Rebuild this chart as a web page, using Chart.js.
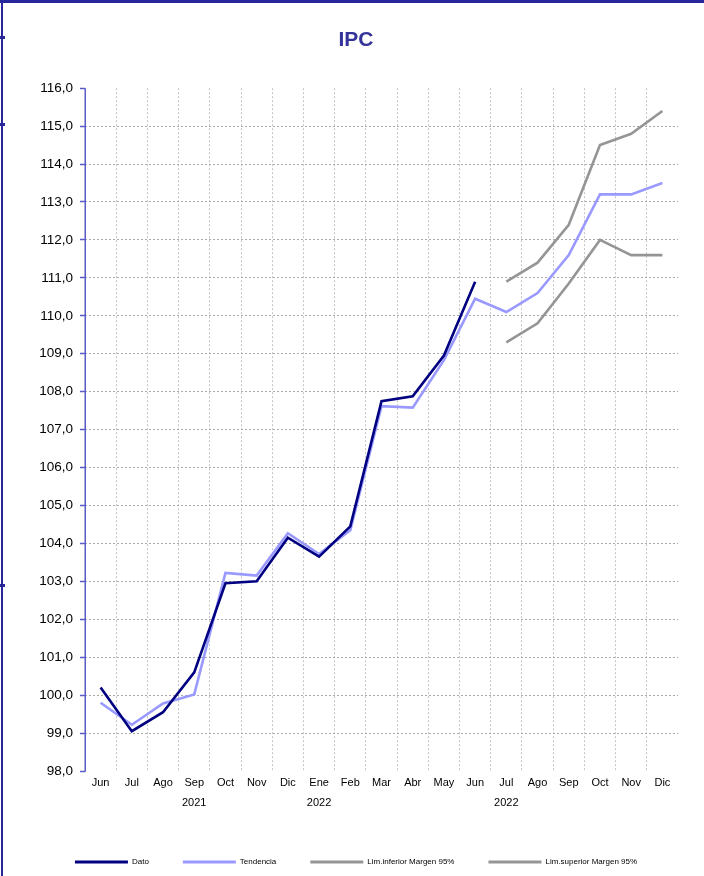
<!DOCTYPE html>
<html lang="es">
<head>
<meta charset="utf-8">
<title>IPC</title>
<script src="https://cdn.jsdelivr.net/npm/chart.js@4/dist/chart.umd.min.js"></script>
<style>
  html, body { margin: 0; padding: 0; background: #ffffff; overflow: hidden; }
  #wrap { position: relative; width: 704px; height: 876px; }
  #ipc { position: absolute; left: 0; top: 0; }
  .frame { position: absolute; background: #27279b; }
</style>
</head>
<body>
<div id="wrap">
  <canvas id="ipc" width="704" height="876"></canvas>
  <div class="frame" style="left:0;top:0;width:704px;height:3px;"></div>
  <div class="frame" style="left:1px;top:0;width:2px;height:876px;"></div>
  <div class="frame" style="left:0;top:36px;width:5px;height:3px;"></div>
  <div class="frame" style="left:0;top:123px;width:5px;height:3px;"></div>
  <div class="frame" style="left:0;top:584px;width:5px;height:3px;"></div>
</div>
<script>
// Months from June 2021 to December 2022
const months = ['Jun', 'Jul', 'Ago', 'Sep', 'Oct', 'Nov', 'Dic', 'Ene', 'Feb', 'Mar', 'Abr', 'May',
                'Jun', 'Jul', 'Ago', 'Sep', 'Oct', 'Nov', 'Dic'];
// Year captions printed under a few months
const years = ['', '', '', '2021', '', '', '', '2022', '', '', '', '', '', '2022', '', '', '', '', ''];

// Observed index
const dato = [100.2, 99.05, 99.55, 100.6, 102.95, 103.0, 104.15, 103.65, 104.45, 107.75, 107.88, 108.95, 110.9,
              null, null, null, null, null, null];
// Trend, including forecast
const tendencia = [99.8, 99.22, 99.78, 100.02, 103.22, 103.15, 104.27, 103.72, 104.35, 107.62, 107.58, 108.83, 110.45,
                   110.1, 110.6, 111.6, 113.2, 113.2, 113.5];
// 95% forecast band
const limInferior = [null, null, null, null, null, null, null, null, null, null, null, null, null,
                     109.3, 109.8, 110.85, 112.0, 111.6, 111.6];
const limSuperior = [null, null, null, null, null, null, null, null, null, null, null, null, null,
                     110.9, 111.4, 112.4, 114.5, 114.8, 115.4];

const yMin = 98, yMax = 116;

const labels = months.map((m, i) => years[i] ? [m, years[i]] : m);

const FONT = 'Arial, "Liberation Sans", sans-serif';
const AXIS_BLUE = '#5b5bc8';

function series(label, data, color) {
  return {
    label, data,
    borderColor: color,
    backgroundColor: color,
    borderWidth: 2.6,
    pointRadius: 0,
    pointHoverRadius: 0,
    tension: 0,
    spanGaps: false
  };
}

// Solid vertical axis line at the left edge of the plot
const yAxisLine = {
  id: 'yAxisLine',
  afterDatasetsDraw(chart) {
    const { ctx, chartArea } = chart;
    ctx.save();
    ctx.strokeStyle = AXIS_BLUE;
    ctx.lineWidth = 1.5;
    ctx.setLineDash([]);
    ctx.beginPath();
    ctx.moveTo(chartArea.left + 0.25, chartArea.top);
    ctx.lineTo(chartArea.left + 0.25, chartArea.bottom + 0.75);
    ctx.stroke();
    ctx.restore();
  }
};

new Chart(document.getElementById('ipc'), {
  type: 'line',
  data: {
    labels,
    datasets: [
      series('Dato', dato, '#000080'),
      series('Tendencia', tendencia, '#9999ff'),
      series('Lim.inferior Margen 95%', limInferior, '#959595'),
      series('Lim.superior Margen 95%', limSuperior, '#959595')
    ]
  },
  options: {
    responsive: false,
    animation: false,
    devicePixelRatio: 1,
    layout: { padding: { left: 34, right: 26, top: 0, bottom: 0 } },
    plugins: {
      tooltip: { enabled: false },
      title: {
        display: true,
        text: 'IPC',
        color: '#333399',
        font: { family: FONT, size: 21, weight: 'bold', lineHeight: 1.2 },
        padding: { top: 28, bottom: 35 }
      },
      legend: {
        position: 'bottom',
        maxHeight: 52,
        labels: {
          color: '#000000',
          font: { family: FONT, size: 8 },
          boxWidth: 53,
          boxHeight: 3,
          padding: 34,
          generateLabels(chart) {
            return Chart.defaults.plugins.legend.labels.generateLabels(chart).map(item => {
              item.lineWidth = 0;
              item.fillStyle = chart.data.datasets[item.datasetIndex].borderColor;
              return item;
            });
          }
        }
      }
    },
    scales: {
      x: {
        type: 'category',
        offset: true,
        border: { display: false, dash: [2, 2] },
        grid: {
          offset: true,
          drawTicks: false,
          color: (c) => (c.type !== 'tick' || c.index === 0) ? 'rgba(0,0,0,0)' : '#c4c4c4',
          lineWidth: 1
        },
        ticks: {
          color: '#000000',
          font: { family: FONT, size: 11, lineHeight: '20px' },
          padding: 2,
          maxRotation: 0,
          autoSkip: false
        },
        afterFit(scale) { scale.height = 53; }
      },
      y: {
        min: yMin,
        max: yMax,
        border: { display: false, dash: [2, 2] },
        grid: {
          color: (c) => (c.tick && (c.tick.value === yMin || c.tick.value === yMax)) ? 'rgba(0,0,0,0)' : '#a9a9a9',
          tickColor: AXIS_BLUE,
          tickLength: 5,
          lineWidth: 1,
          tickWidth: 1.5,
          tickBorderDash: []
        },
        ticks: {
          stepSize: 1,
          color: '#000000',
          font: { family: FONT, size: 13.5 },
          padding: 7,
          callback: (v) => Number(v).toFixed(1).replace('.', ',')
        },
        afterFit(scale) { scale.width = 51; }
      }
    }
  },
  plugins: [yAxisLine]
});
</script>
</body>
</html>
